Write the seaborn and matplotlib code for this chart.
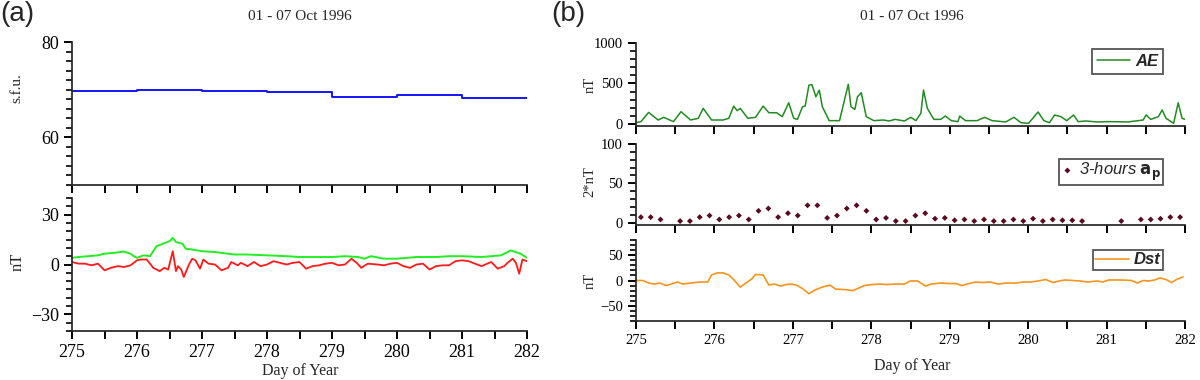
import numpy as np
import pandas as pd
import matplotlib
matplotlib.use("Agg")
import matplotlib.pyplot as plt
from matplotlib.ticker import MultipleLocator, FixedLocator, NullFormatter
import seaborn as sns

# ---------------- data ----------------
# (a) top: daily solar flux F10.7 (s.f.u.)
flux_day = [275, 276, 277, 278, 279, 280, 281, 282]
flux_val = [69.8, 69.9, 69.8, 69.5, 68.5, 68.9, 68.3, 68.3]

# (a) bottom: green and red curves (nT)
green_day = [275.0, 275.1, 275.25, 275.4, 275.5, 275.65, 275.8, 275.9, 275.95, 276.0,
             276.1, 276.2, 276.3, 276.4, 276.5, 276.55, 276.6, 276.7, 276.75, 276.85,
             277.0, 277.2, 277.5, 277.7, 278.0, 278.3, 278.5, 278.8, 279.0, 279.2,
             279.4, 279.5, 279.6, 279.8, 280.0, 280.3, 280.6, 280.8, 281.0, 281.3,
             281.6, 281.75, 281.9, 282.0]
green_val = [4.0, 4.5, 5.0, 5.5, 6.5, 7.0, 7.8, 6.5, 5.0, 4.0,
             5.5, 5.0, 11.0, 12.5, 14.0, 16.0, 13.5, 12.5, 9.5, 9.0,
             8.0, 7.5, 6.0, 6.0, 5.5, 5.0, 4.5, 4.5, 4.5, 5.0,
             4.5, 3.5, 5.0, 3.5, 3.5, 4.5, 4.5, 5.0, 5.0, 4.5,
             5.5, 8.5, 6.5, 4.0]

red_day = [275.0, 275.1, 275.2, 275.3, 275.4, 275.5, 275.6, 275.7, 275.8, 275.9,
           276.0, 276.05, 276.15, 276.25, 276.35, 276.42, 276.48, 276.55, 276.6, 276.63,
           276.68, 276.72, 276.8, 276.85, 276.9, 276.97, 277.02, 277.1, 277.2, 277.3,
           277.4, 277.45, 277.55, 277.6, 277.7, 277.8, 277.9, 278.0, 278.1, 278.2,
           278.3, 278.4, 278.5, 278.6, 278.7, 278.8, 278.9, 279.0, 279.1, 279.2,
           279.3, 279.38, 279.45, 279.55, 279.7, 279.8, 279.9, 280.0, 280.1, 280.2,
           280.3, 280.4, 280.5, 280.6, 280.7, 280.8, 280.9, 281.0, 281.1, 281.2,
           281.3, 281.45, 281.55, 281.65, 281.7, 281.78, 281.83, 281.88, 281.93, 282.0]
red_val = [1.5, 0.5, 0.5, -0.5, 0.5, -3.5, -2.0, -1.0, -1.5, -0.5,
           2.5, 3.0, 3.0, -2.0, -4.0, -2.0, -3.0, 8.0, -4.0, -1.0,
           -3.0, -7.5, 0.0, 3.5, 2.5, -2.5, 3.0, 0.5, 0.0, -3.5,
           -2.0, 1.5, -0.5, 1.0, -1.0, 1.5, -1.0, 0.0, 2.0, 1.0,
           0.0, 1.0, 1.5, -2.5, -1.0, -0.5, 0.5, 1.0, -0.5, 0.0,
           3.5, 1.0, -2.0, 0.5, 0.0, -0.5, 0.5, 1.0, -1.0, -2.0,
           0.0, 0.5, -3.0, -1.0, -0.5, -0.5, 2.0, 2.5, 2.0, 0.5,
           -1.0, 1.5, -2.5, -1.0, 1.0, 3.5, 1.0, -5.5, 3.0, 2.0]

# (b) AE index (nT)
ae_day = [275.0, 275.063, 275.161, 275.282, 275.355, 275.477, 275.574, 275.696, 275.794, 275.857,
          275.964, 276.110, 276.183, 276.246, 276.290, 276.329, 276.426, 276.524, 276.621, 276.694,
          276.792, 276.865, 276.947, 277.011, 277.059, 277.123, 277.157, 277.205, 277.244, 277.293,
          277.337, 277.376, 277.463, 277.595, 277.658, 277.707, 277.741, 277.790, 277.824, 277.872,
          277.936, 278.033, 278.155, 278.228, 278.301, 278.423, 278.505, 278.569, 278.632, 278.666,
          278.715, 278.797, 278.885, 278.944, 279.021, 279.104, 279.128, 279.202, 279.348, 279.445,
          279.542, 279.713, 279.820, 279.908, 280.005, 280.127, 280.200, 280.273, 280.336, 280.419,
          280.492, 280.579, 280.638, 280.735, 280.881, 281.027, 281.271, 281.466, 281.504, 281.563,
          281.660, 281.709, 281.758, 281.855, 281.913, 281.962, 282.0]
ae_val = [16, 29, 143, 49, 82, 29, 152, 49, 70, 193,
          49, 49, 70, 221, 164, 193, 70, 82, 221, 139,
          139, 90, 262, 70, 57, 213, 221, 480, 485, 336,
          418, 213, 41, 41, 295, 490, 213, 180, 336, 385,
          90, 41, 49, 37, 57, 37, 82, 41, 131, 418,
          193, 57, 57, 98, 41, 29, 98, 41, 41, 82,
          41, 25, 82, 16, 8, 148, 41, 16, 111, 90,
          41, 111, 29, 37, 25, 29, 25, 49, 111, 57,
          90, 172, 70, 8, 262, 70, 57]

# (b) 3-hourly ap index (2*nT), centred on each 3-hour interval; nan = not plotted
ap_time = [275.0625 + 0.125 * k for k in range(56)]
ap_val = [7, 7, 4, np.nan, 2, 2, 7, 9, 4, 7,
          9, 4, 15, 18, 7, 12, 9, 22, 22, 6,
          9, 18, 22, 15, 4, 6, 2, 2, 9, 12,
          5, 6, 3, 4, 2, 4, 2, 2, 4, 2,
          5, 2, 4, 3, 3, 2, np.nan, np.nan, np.nan, 2,
          np.nan, 4, 4, 5, 7, 7]

# (b) Dst index (nT)
dst_day = [275.000, 275.088, 275.161, 275.234, 275.307, 275.380, 275.453, 275.526, 275.599, 275.696,
           275.818, 275.915, 275.964, 276.037, 276.110, 276.183, 276.256, 276.329, 276.402, 276.475,
           276.524, 276.621, 276.694, 276.767, 276.840, 276.913, 276.986, 277.059, 277.132, 277.205,
           277.278, 277.376, 277.473, 277.546, 277.668, 277.765, 277.838, 277.911, 278.009, 278.106,
           278.203, 278.301, 278.423, 278.496, 278.593, 278.690, 278.763, 278.885, 278.982, 279.080,
           279.153, 279.226, 279.323, 279.421, 279.518, 279.615, 279.713, 279.859, 279.932, 280.029,
           280.127, 280.224, 280.321, 280.394, 280.467, 280.565, 280.662, 280.759, 280.881, 280.954,
           281.027, 281.100, 281.198, 281.320, 281.392, 281.466, 281.539, 281.611, 281.684, 281.757,
           281.830, 281.903, 281.976]
dst_val = [0, 0, -5, -7, -5, -10, -7, -3, -7, -5,
           -3, -3, 11, 15, 15, 11, 0, -13, -5, 3,
           12, 11, -9, -7, -11, -8, -7, -10, -17, -26,
           -19, -13, -9, -17, -18, -20, -15, -10, -8, -7,
           -8, -7, -7, -1, -1, -11, -7, -5, -6, -6,
           -10, -7, -3, -4, -3, -7, -5, -5, -3, -3,
           -1, 2, -4, -1, 1, 0, -1, -3, -1, -3,
           1, 1, 1, 0, -5, 0, -1, 1, 5, 2,
           -4, 3, 7]

title_text = "01 - 07 Oct 1996"

# ---------------- style ----------------
sns.set_theme(style="ticks")
plt.rcParams["font.family"] = ["Liberation Serif", "DejaVu Serif"]
plt.rcParams.update({
    "xtick.minor.visible": True, "ytick.minor.visible": True,
    "xtick.major.size": 6, "xtick.minor.size": 6,
    "ytick.major.size": 6, "ytick.minor.size": 4,
    "xtick.color": "black", "ytick.color": "black",
})

W, H = 1200, 380
fig = plt.figure(figsize=(12, 3.8), dpi=100)


def add_ax(x0, y0, x1, y1):
    # pixel box (top-left origin) -> figure fraction
    return fig.add_axes([x0 / W, 1 - y1 / H, (x1 - x0) / W, (y1 - y0) / H])


def style_ax(ax, yticks, ymin, label_x, fs):
    sns.despine(ax=ax)
    ax.set_xlim(275, 282)
    ax.xaxis.set_major_locator(MultipleLocator(1))
    ax.xaxis.set_minor_locator(MultipleLocator(0.5))
    ax.yaxis.set_major_locator(FixedLocator(yticks))
    ax.yaxis.set_minor_locator(MultipleLocator(ymin))
    ax.tick_params(axis="both", which="both", labelsize=fs, labelcolor="black")
    if not label_x:
        ax.xaxis.set_major_formatter(NullFormatter())
    ax.grid(False)


# ---------------- panel (a) ----------------
ax1 = add_ax(72, 42, 527, 185)
sns.lineplot(x=flux_day, y=flux_val, ax=ax1, color="#1414ff", lw=1.4,
             drawstyle="steps-post", estimator=None)
style_ax(ax1, [60, 80], 2, False, 13)
ax1.set_ylim(50, 80)

ax2 = add_ax(72, 198, 527, 331)
sns.lineplot(x=green_day, y=green_val, ax=ax2, color="#22ee22", lw=1.4, estimator=None)
sns.lineplot(x=red_day, y=red_val, ax=ax2, color="#ff1a1a", lw=1.3, estimator=None)
style_ax(ax2, [-30, 0, 30], 5, True, 13)
ax2.set_ylim(-40, 40)

fig.text(0.0, 0.998, "(a)", family="Liberation Sans", fontsize=20, ha="left", va="top")
fig.text(300 / W, 1 - 16 / H, title_text, fontsize=11, ha="center", va="center")
fig.text(17 / W, 1 - 88 / H, "s.f.u.", fontsize=11, rotation=90, ha="center", va="center")
fig.text(18 / W, 1 - 262 / H, "nT", fontsize=12, rotation=90, ha="center", va="center")
fig.text(300 / W, 1 - 371 / H, "Day of Year", fontsize=11.5, ha="center", va="center")

# ---------------- panel (b) ----------------
leg_kw = dict(loc="upper right", bbox_transform=fig.transFigure, frameon=True,
              fancybox=False, borderaxespad=0, handletextpad=0.3)
bold_it = {"family": "Liberation Sans", "style": "italic", "weight": "bold", "size": 12}
plain_it = {"family": "Liberation Sans", "style": "italic", "size": 12}

ax3 = add_ax(636, 43, 1185, 126)
sns.lineplot(x=ae_day, y=ae_val, ax=ax3, color="#228b22", lw=1.1, estimator=None,
             label="AE")
style_ax(ax3, [0, 500, 1000], 100, False, 10.5)
ax3.set_ylim(-25, 1000)
leg3 = ax3.legend(bbox_to_anchor=(1163 / W, 1 - 49 / H), handlelength=2.0,
                  borderpad=0.3, prop=bold_it, **leg_kw)

ax4 = add_ax(636, 144, 1185, 225)
sns.scatterplot(x=ap_time, y=ap_val, ax=ax4, color="#5a0a1e", marker="D", s=9,
                edgecolor="none", label=r"3-hours $\mathbf{a}_\mathbf{p}$")
style_ax(ax4, [0, 50, 100], 10, False, 10.5)
ax4.set_ylim(-3, 100)
leg4 = ax4.legend(bbox_to_anchor=(1163 / W, 1 - 159 / H), handlelength=0.8,
                  borderpad=0.1, prop=plain_it, **leg_kw)

ax5 = add_ax(636, 240, 1185, 321)
sns.lineplot(x=dst_day, y=dst_val, ax=ax5, color="#f7941d", lw=1.2, estimator=None,
             label="Dst")
style_ax(ax5, [-50, 0, 50], 10, True, 10.5)
ax5.set_ylim(-80, 80)
leg5 = ax5.legend(bbox_to_anchor=(1163 / W, 1 - 250 / H), handlelength=2.0,
                  borderpad=0.15, prop=bold_it, **leg_kw)

for lg in (leg3, leg4, leg5):
    fr = lg.get_frame()
    fr.set_edgecolor("#555555")
    fr.set_linewidth(1.3)
    fr.set_facecolor("white")
    fr.set_alpha(1)

fig.text(568 / W, 0.998, "(b)", family="Liberation Sans", fontsize=20, ha="center", va="top")
fig.text(912 / W, 1 - 16 / H, title_text, fontsize=11, ha="center", va="center")
fig.text(590 / W, 1 - 85 / H, "nT", fontsize=10.5, rotation=90, ha="center", va="center")
fig.text(590 / W, 1 - 182 / H, "2*nT", fontsize=10.5, rotation=90, ha="center", va="center")
fig.text(590 / W, 1 - 281 / H, "nT", fontsize=10.5, rotation=90, ha="center", va="center")
fig.text(912 / W, 1 - 366 / H, "Day of Year", fontsize=11.5, ha="center", va="center")

# make sure the tick marks are drawn on every panel
for ax in (ax1, ax2, ax3, ax4, ax5):
    ax.set_xlabel("")
    ax.set_ylabel("")
    ax.tick_params(axis="both", which="both", direction="out", color="black",
                   bottom=True, left=True, top=False, right=False)
    ax.tick_params(axis="x", which="both", length=6, width=1.4)
    ax.tick_params(axis="y", which="major", length=6, width=1.4)
    ax.tick_params(axis="y", which="minor", length=4, width=1.2)

fig.canvas.draw()
fig.savefig("out.png", dpi=100, facecolor="white")
